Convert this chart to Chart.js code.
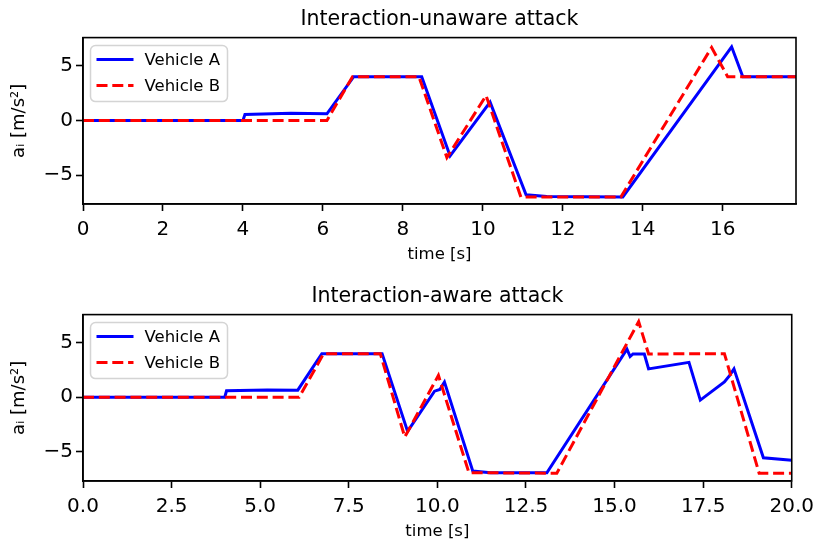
<!DOCTYPE html>
<html>
<head>
<meta charset="utf-8">
<script src="https://cdn.jsdelivr.net/npm/chart.js@4.4.1/dist/chart.umd.min.js"></script>
<style>
html, body { margin: 0; padding: 0; background: #fff; }
#wrap { position: relative; width: 821px; height: 544px; }
canvas { position: absolute; left: 0; }
</style>
</head>
<body>
<div id="wrap">
  <canvas id="topChart" width="821" height="277" style="top:0"></canvas>
  <canvas id="bottomChart" width="821" height="267" style="top:277px"></canvas>
</div>
<script>
// values
const seriesNames = ["Vehicle A", "Vehicle B"];

// top panel: interaction-unaware attack
const topTimeA = [0, 4.0, 4.05, 5.2, 6.1, 6.77, 8.47, 9.18, 10.18, 11.08, 11.6, 13.5, 16.22, 16.5, 17.85];
const topAccA  = [0, 0, 0.55, 0.66, 0.6, 4.0, 4.0, -3.25, 1.67, -6.8, -6.95, -7.0, 6.73, 4.0, 4.0];
const topTimeB = [0, 6.1, 6.74, 8.4, 9.1, 10.08, 10.95, 13.45, 15.72, 16.12, 17.85];
const topAccB  = [0, 0, 4.0, 4.0, -3.4, 2.27, -7.0, -7.0, 6.67, 4.0, 4.0];

// bottom panel: interaction-aware attack
const botTimeA = [0, 4.0, 4.05, 5.2, 6.06, 6.74, 8.44, 9.16, 9.92, 10.07, 10.2, 11.0, 11.5, 13.09,
                  15.35, 15.44, 15.52, 15.84, 15.96, 17.1, 17.42, 18.1, 18.25, 18.37, 19.2, 20];
const botAccA  = [0, 0, 0.58, 0.66, 0.64, 4.0, 4.0, -3.15, 0.55, 0.7, 1.39, -6.8, -6.95, -6.95,
                  4.42, 3.73, 3.97, 3.97, 2.6, 3.2, -0.27, 1.39, 2.0, 2.6, -5.58, -5.8];
const botTimeB = [0, 6.1, 6.79, 8.39, 9.08, 10.03, 10.89, 13.37, 15.68, 15.96, 18.1, 19.08, 20];
const botAccB  = [0, 0, 4.0, 4.0, -3.67, 2.0, -6.94, -7.0, 6.94, 3.97, 4.0, -7.0, -7.0];

const topXTicks = [0, 2, 4, 6, 8, 10, 12, 14, 16];
const botXTicks = [0, 2.5, 5, 7.5, 10, 12.5, 15, 17.5, 20];
const yTicks = [-5, 0, 5];

const FONT = "'DejaVu Sans', sans-serif";

function toPoints(xs, ys) {
    return xs.map((x, i) => ({ x: x, y: ys[i] }));
}

// top and right spines
const framePlugin = {
    id: 'frame',
    afterDatasetsDraw(chart) {
        const { ctx, chartArea: a } = chart;
        ctx.save();
        ctx.strokeStyle = '#000';
        ctx.lineWidth = 1.6;
        ctx.strokeRect(a.left, a.top, a.right - a.left, a.bottom - a.top);
        ctx.restore();
    }
};

// legend drawn inside the plot, upper left like matplotlib
const insideLegend = {
    id: 'insideLegend',
    afterDraw(chart) {
        const { ctx, chartArea } = chart;
        const x0 = chartArea.left + 7.5, y0 = chartArea.top + 8;
        ctx.save();
        ctx.beginPath();
        ctx.roundRect(x0, y0, 137, 56, 5);
        ctx.fillStyle = 'rgba(255,255,255,0.8)';
        ctx.fill();
        ctx.strokeStyle = '#d4d4d4';
        ctx.lineWidth = 1.5;
        ctx.stroke();
        chart.data.datasets.forEach((ds, i) => {
            let y = y0 + 14 + i * 26;
            ctx.beginPath();
            ctx.setLineDash(ds.borderDash || []);
            ctx.strokeStyle = ds.borderColor;
            ctx.lineWidth = ds.borderWidth;
            ctx.moveTo(x0 + 6, y);
            ctx.lineTo(x0 + 43, y);
            ctx.stroke();
            ctx.setLineDash([]);
            ctx.fillStyle = '#000';
            ctx.font = "16.5px " + FONT;
            ctx.textBaseline = 'middle';
            ctx.fillText(ds.label, x0 + 54, y + 1);
        });
        ctx.restore();
    }
};

function drawPanel(canvasID, titleText, timeA, accA, timeB, accB, xMax, xTicks, xDecimals, yMin, yMax) {
    let canvas = document.getElementById(canvasID);
    let bottomPad = canvas.height - 204 - 62;

    let config = {
        type: 'line',
        data: {
            datasets: [{
                label: seriesNames[0],
                data: toPoints(timeA, accA),
                borderColor: 'rgb(0,0,255)',
                borderWidth: 3,
                pointRadius: 0,
                tension: 0,
                order: 1
            }, {
                label: seriesNames[1],
                data: toPoints(timeB, accB),
                borderColor: 'rgb(255,0,0)',
                borderWidth: 3,
                borderDash: [11, 4.8],
                pointRadius: 0,
                tension: 0,
                order: 0
            }]
        },
        options: {
            responsive: false,
            animation: false,
            layout: { padding: { left: 0, right: 25, top: 0, bottom: bottomPad } },
            scales: {
                x: {
                    type: 'linear',
                    min: 0,
                    max: xMax,
                    afterBuildTicks: (axis) => { axis.ticks = xTicks.map(v => ({ value: v })); },
                    afterFit: (axis) => { axis.height = 62; },
                    grid: { drawOnChartArea: false, drawTicks: true, tickLength: 7, tickWidth: 1.6, tickColor: '#000' },
                    border: { display: true, color: '#000', width: 1.6 },
                    ticks: {
                        color: '#000',
                        padding: 7,
                        maxRotation: 0,
                        font: { family: FONT, size: 20 },
                        callback: (v) => v.toFixed(xDecimals)
                    },
                    title: {
                        display: true,
                        text: 'time [s]',
                        color: '#000',
                        padding: { top: 0, bottom: 1 },
                        font: { family: FONT, size: 16.5 }
                    }
                },
                y: {
                    min: yMin,
                    max: yMax,
                    afterBuildTicks: (axis) => { axis.ticks = yTicks.map(v => ({ value: v })); },
                    afterFit: (axis) => { axis.width = 83; },
                    grid: { drawOnChartArea: false, drawTicks: true, tickLength: 7, tickWidth: 1.6, tickColor: '#000' },
                    border: { display: true, color: '#000', width: 1.6 },
                    ticks: {
                        color: '#000',
                        padding: 3,
                        font: { family: FONT, size: 20 },
                        callback: (v) => v < 0 ? '\u2212' + Math.abs(v) : String(v)
                    },
                    title: {
                        display: true,
                        text: 'a\u1D62 [m/s\u00B2]',
                        color: '#000',
                        padding: { top: 9, bottom: 0 },
                        font: { family: FONT, size: 18 }
                    }
                }
            },
            plugins: {
                legend: { display: false },
                tooltip: { enabled: false },
                title: {
                    display: true,
                    fullSize: false,
                    text: titleText,
                    color: '#000',
                    padding: { top: 7, bottom: 6 },
                    font: { family: FONT, size: 20.5, weight: 'normal' }
                }
            }
        },
        plugins: [framePlugin, insideLegend]
    };

    return new Chart(canvas, config);
}

drawPanel('topChart', 'Interaction-unaware attack', topTimeA, topAccA, topTimeB, topAccB, 17.83, topXTicks, 0, -7.64, 7.57);
drawPanel('bottomChart', 'Interaction-aware attack', botTimeA, botAccA, botTimeB, botAccB, 20, botXTicks, 1, -7.71, 7.59);
</script>
</body>
</html>
